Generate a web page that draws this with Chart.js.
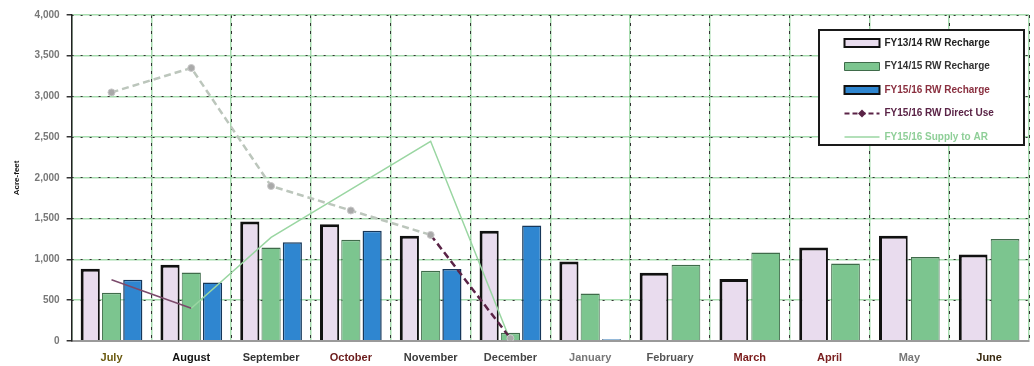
<!DOCTYPE html>
<html>
<head>
<meta charset="utf-8">
<script src="https://cdn.jsdelivr.net/npm/chart.js@4.4.1/dist/chart.umd.min.js"></script>
<style>
  html, body { margin: 0; padding: 0; background: #fff; }
  #wrap { width: 1034px; height: 366px; position: relative; }
</style>
</head>
<body>
<div id="wrap"><canvas id="grafico"></canvas></div>
<script>
const mesi = ["July", "August", "September", "October", "November", "December",
  "January", "February", "March", "April", "May", "June"];
const coloriMesi = ["#6b5a10", "#111111", "#333333", "#6a1a1a", "#3a3a3a", "#444444",
  "#777777", "#555555", "#7a1a1a", "#7a2020", "#777777", "#3a2a10"];

const nomiSerie = ["FY13/14 RW Recharge", "FY14/15 RW Recharge", "FY15/16 RW Recharge",
  "FY15/16 RW Direct Use", "FY15/16 Supply to AR"];

const ricarica1314 = [885, 935, 1465, 1430, 1290, 1350, 975, 835, 760, 1145, 1290, 1060];
const ricarica1415 = [590, 840, 1145, 1240, 860, 100, 580, 935, 1085, 950, 1030, 1250];
const ricarica1516 = [750, 715, 1210, 1350, 880, 1415, 20, null, null, null, null, null];
const usoDiretto1516 = [3050, 3350, 1900, 1600, 1300, 30, null, null, null, null, null, null];
const fornituraAR1516 = [750, 400, 1270, 1860, 2450, 0, null, null, null, null, null, null];

const font = "'Liberation Sans', Arial, sans-serif";

// legenda dentro l'area del grafico, con riquadro bianco
const legendaNelGrafico = {
  id: "legendaNelGrafico",
  afterLayout(chart) {
    let lg = chart.legend;
    let ca = chart.chartArea;
    lg.left = ca.right - 198;
    lg.right = lg.left + lg.width + 20;
    lg.top = ca.top + 9.5;
    lg.bottom = lg.top + 150;
  },
  beforeDatasetsDraw(chart) {
    let lg = chart.legend;
    let ctx = chart.ctx;
    let x = lg.left - 12;
    let y = lg.top + 5.5;
    ctx.save();
    ctx.fillStyle = "#ffffff";
    ctx.fillRect(x, y, 205, 115);
    ctx.lineWidth = 2;
    ctx.strokeStyle = "#1a1a1a";
    ctx.strokeRect(x, y, 205, 115);
    ctx.restore();
    lg.draw();
    let hb = lg.legendHitBoxes[3];
    if (hb) {
      let cx = hb.left + 17.5;
      let cy = hb.top + 5;
      ctx.save();
      ctx.fillStyle = "#5a2346";
      ctx.beginPath();
      ctx.moveTo(cx, cy - 4);
      ctx.lineTo(cx + 4, cy);
      ctx.lineTo(cx, cy + 4);
      ctx.lineTo(cx - 4, cy);
      ctx.closePath();
      ctx.fill();
      ctx.restore();
    }
  }
};

function generaGrafico() {
  let ctx = document.getElementById("grafico").getContext("2d");
  new Chart(ctx, {
    data: {
      labels: mesi,
      datasets: [
        {
          type: "bar", label: nomiSerie[0], data: ricarica1314,
          backgroundColor: "#e9dcee", borderColor: "#111111",
          borderWidth: { top: 3, left: 3, right: 2, bottom: 0 },
          skipNull: true, order: 1
        },
        {
          type: "bar", label: nomiSerie[1], data: ricarica1415,
          backgroundColor: "#7cc58f", borderColor: "#3f6b4a",
          borderWidth: { top: 1.5, left: 1, right: 1, bottom: 0 },
          skipNull: true, order: 1
        },
        {
          type: "bar", label: nomiSerie[2], data: ricarica1516,
          backgroundColor: "#2f86d0", borderColor: "#16375a",
          borderWidth: { top: 1.5, left: 1.5, right: 1.5, bottom: 0 },
          skipNull: true, order: 1
        },
        {
          type: "line", label: nomiSerie[3], data: usoDiretto1516,
          borderColor: "#bcc6bc", borderWidth: 2.5, borderDash: [7, 4],
          pointRadius: 3.5, pointBackgroundColor: "#a9a9a9",
          pointBorderColor: "#c8c8c8", pointBorderWidth: 1,
          segment: { borderColor: c => c.p0DataIndex === 4 ? "#5a2346" : undefined },
          tension: 0, order: 0
        },
        {
          type: "line", label: nomiSerie[4], data: fornituraAR1516,
          borderColor: "#9ad6a2", borderWidth: 1.5, pointRadius: 0,
          segment: { borderColor: c => c.p0DataIndex === 0 ? "#7b4a6b" : undefined },
          tension: 0, order: 0
        }
      ]
    },
    options: {
      responsive: true,
      maintainAspectRatio: false,
      animation: false,
      layout: { padding: { top: 15, right: 4, left: 12, bottom: -10 } },
      plugins: {
        tooltip: { enabled: false },
        legend: {
          position: "chartArea",
          align: "start",
          labels: {
            usePointStyle: true,
            pointStyleWidth: 35,
            boxHeight: 8,
            padding: 13.5,
            font: { family: font, size: 10, weight: "bold" },
            generateLabels: () => [
              { text: nomiSerie[0], datasetIndex: 0, hidden: false, fillStyle: "#e9dcee", strokeStyle: "#111111", lineWidth: 2, pointStyle: "rect", fontColor: "#222222" },
              { text: nomiSerie[1], datasetIndex: 1, hidden: false, fillStyle: "#7cc58f", strokeStyle: "#3f6b4a", lineWidth: 1, pointStyle: "rect", fontColor: "#333333" },
              { text: nomiSerie[2], datasetIndex: 2, hidden: false, fillStyle: "#2f86d0", strokeStyle: "#111111", lineWidth: 2, pointStyle: "rect", fontColor: "#8a3040" },
              { text: nomiSerie[3], datasetIndex: 3, hidden: false, fillStyle: "#5a2346", strokeStyle: "#5a2346", lineWidth: 2, lineDash: [5, 3], pointStyle: "line", fontColor: "#5a2346" },
              { text: nomiSerie[4], datasetIndex: 4, hidden: false, fillStyle: "#9ad6a2", strokeStyle: "#9ad6a2", lineWidth: 1.5, pointStyle: "line", fontColor: "#8fcf98" }
            ]
          }
        }
      },
      scales: {
        x: {
          grid: { color: "#a6dcae", lineWidth: 1.5, offset: true, drawTicks: false },
          border: { display: true, color: "#9a9a9a", width: 2 },
          ticks: {
            color: c => coloriMesi[c.index],
            font: { family: font, size: 11, weight: "bold" },
            padding: 11
          }
        },
        x2: {
          type: "category", position: "top", offset: true,
          grid: { color: "#333333", lineWidth: 1, offset: true, drawTicks: false },
          border: { display: false, dash: [3, 5] },
          ticks: { display: false }
        },
        y: {
          min: 0, max: 4000,
          ticks: {
            stepSize: 500, color: "#777777", padding: 7,
            font: { family: font, size: 10, weight: "bold" },
            callback: v => v.toLocaleString("en-US")
          },
          grid: { color: "#a6dcae", lineWidth: 1.5, tickLength: 5, tickColor: "#333333" },
          border: { color: "#222222", width: 1.5 },
          title: {
            display: true, text: "Acre-feet", color: "#111111",
            font: { family: font, size: 8, weight: "bold" },
            padding: { top: 0, bottom: 6 }
          }
        },
        y2: {
          min: 0, max: 4000, position: "right",
          ticks: { display: false, stepSize: 500 },
          grid: { color: "#333333", lineWidth: 1, drawTicks: false },
          border: { display: false, dash: [2, 7] }
        }
      }
    },
    plugins: [legendaNelGrafico]
  });
}

generaGrafico();
</script>
</body>
</html>
